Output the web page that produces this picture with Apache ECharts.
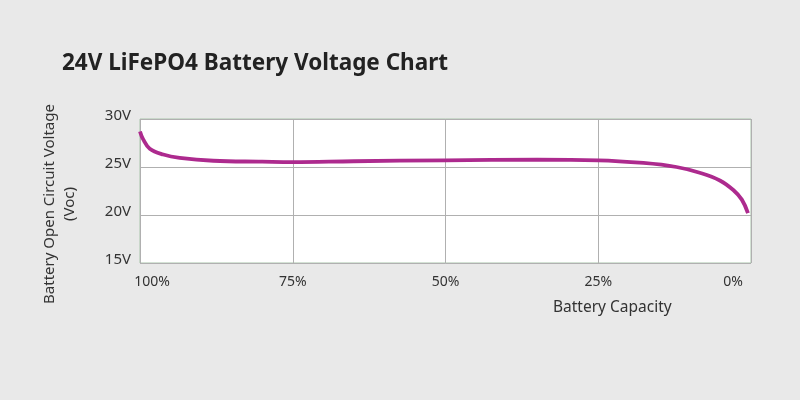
<!DOCTYPE html>
<html>
<head>
<meta charset="utf-8">
<script src="https://cdn.jsdelivr.net/npm/echarts@6/dist/echarts.min.js"></script>
<style>
  html, body { margin: 0; padding: 0; background: #e9e9e9; }
  #chart { width: 800px; height: 400px; }
</style>
</head>
<body>
<div id="chart"></div>
<script>
// remaining capacity (%) and open circuit voltage (V)
const capacity = [100, 99.5, 98.4, 96.2, 93.5, 88, 80, 75, 65, 50, 35, 25, 17.6, 12.2, 8.4, 5.1, 2.9, 1.5, 0.5];
const voltage = [28.7, 27.9, 26.9, 26.3, 25.95, 25.65, 25.55, 25.5, 25.6, 25.7, 25.76, 25.7, 25.42, 25.0, 24.4, 23.6, 22.6, 21.6, 20.2];
const capacityTicks = [0, 25, 50, 75, 100];
const voltageTicks = [15, 20, 25, 30];

const chart = echarts.init(document.querySelector('#chart'));
const font = '"Noto Sans", "Open Sans", sans-serif';

const option = {
  backgroundColor: '#e9e9e9',
  animation: false,
  title: {
    text: '24V LiFePO4 Battery Voltage Chart',
    left: 57,
    top: 47,
    textStyle: { fontFamily: font, fontSize: 22.5, fontWeight: 'bold', color: '#222' }
  },
  graphic: [{
    type: 'text',
    left: 553,
    top: 300,
    style: { text: 'Battery Capacity', font: '15.5px ' + font, fill: '#333' }
  }],
  grid: { left: 140, right: 49, top: 119, bottom: 137, show: true, backgroundColor: '#fff', borderColor: '#a9c4ab', borderWidth: 1 },
  xAxis: {
    type: 'value',
    inverse: true,
    min: capacityTicks[0],
    max: capacityTicks[capacityTicks.length - 1],
    interval: 25,
    axisLine: { show: false },
    axisTick: { show: false },
    splitLine: { lineStyle: { color: '#b0b0b0', width: 1 } },
    axisLabel: {
      margin: 12,
      fontFamily: font,
      fontSize: 14,
      color: '#333',
      formatter: v => v === 100 ? '{first|100%}' : v === 0 ? '{last|0%}' : v + '%',
      rich: {
        first: { fontFamily: font, fontSize: 14, color: '#333', padding: [0, 0, 0, 24] },
        last: { fontFamily: font, fontSize: 14, color: '#333', padding: [0, 36, 0, 0] }
      }
    }
  },
  yAxis: {
    type: 'value',
    min: voltageTicks[0],
    max: voltageTicks[voltageTicks.length - 1],
    interval: 5,
    name: 'Battery Open Circuit Voltage\n(Voc)',
    nameLocation: 'middle',
    nameGap: 60,
    nameRotate: 90,
    nameTextStyle: { fontFamily: font, fontSize: 15, color: '#333', lineHeight: 20, padding: [0, 26, 0, 0] },
    axisLine: { show: false },
    axisTick: { show: false },
    splitLine: { lineStyle: { color: '#b0b0b0', width: 1 } },
    axisLabel: {
      margin: 9,
      fontFamily: font,
      fontSize: 15,
      color: '#333',
      verticalAlign: 'bottom',
      lineHeight: 6,
      formatter: v => v + 'V'
    }
  },
  series: [{
    type: 'line',
    smooth: 0.4,
    showSymbol: false,
    data: capacity.map((c, i) => [c, voltage[i]]),
    lineStyle: { color: '#ad2a8e', width: 3.8 }
  }]
};
chart.setOption(option);
</script>
</body>
</html>
